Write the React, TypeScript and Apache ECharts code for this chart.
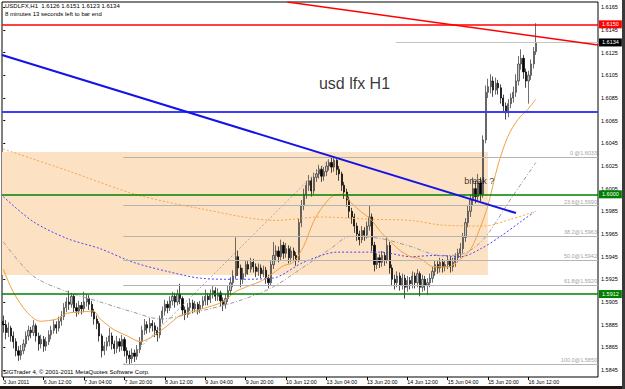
import React, { useEffect, useRef } from "react";
import * as echarts from "echarts";

const FONT = '"Liberation Sans", Arial, sans-serif';

const xTickLabels = [
  "3 Jun 2011", "6 Jun 12:00", "7 Jun 04:00", "7 Jun 20:00", "8 Jun 12:00", "9 Jun 04:00",
  "9 Jun 20:00", "10 Jun 12:00", "13 Jun 04:00", "13 Jun 20:00", "14 Jun 12:00",
  "15 Jun 04:00", "15 Jun 20:00", "16 Jun 12:00",
];
const barsPerLabel = 16;
const slotCount = 236;

const yTickValues = [
  1.5845, 1.5865, 1.5885, 1.5905, 1.5925, 1.5945, 1.5965, 1.5985, 1.6005,
  1.6025, 1.6045, 1.6065, 1.6085, 1.6105, 1.6125, 1.6145, 1.6165,
];

// [open, close, low, high]
const ohlc = [
  [1.5888, 1.5885, 1.5878, 1.5893], [1.5885, 1.5878, 1.5872, 1.5889], [1.5878, 1.5882, 1.5874, 1.5887],
  [1.5882, 1.5875, 1.587, 1.5884], [1.5875, 1.587, 1.5864, 1.5879], [1.587, 1.5862, 1.5857, 1.5873],
  [1.5862, 1.5858, 1.5853, 1.5866], [1.5858, 1.5862, 1.5854, 1.5867], [1.5862, 1.5868, 1.5859, 1.5872],
  [1.5868, 1.5875, 1.5865, 1.5879], [1.5875, 1.588, 1.5871, 1.5884], [1.588, 1.5878, 1.5873, 1.5883],
  [1.5878, 1.5884, 1.5875, 1.5889], [1.5884, 1.5875, 1.587, 1.5886], [1.5875, 1.5868, 1.5862, 1.5878],
  [1.5868, 1.5872, 1.5864, 1.5876], [1.5872, 1.5866, 1.5861, 1.5875], [1.5866, 1.587, 1.5862, 1.5874],
  [1.587, 1.5876, 1.5867, 1.588], [1.5876, 1.588, 1.5872, 1.5884], [1.588, 1.5885, 1.5877, 1.5889],
  [1.5885, 1.5882, 1.5877, 1.5888], [1.5882, 1.5888, 1.5879, 1.5892], [1.5888, 1.5892, 1.5884, 1.5897],
  [1.5892, 1.59, 1.5889, 1.5904], [1.59, 1.5905, 1.5896, 1.5909], [1.5905, 1.5903, 1.5898, 1.5915],
  [1.5903, 1.591, 1.59, 1.5913], [1.591, 1.59, 1.5896, 1.5912], [1.59, 1.5897, 1.5892, 1.5904],
  [1.5897, 1.5902, 1.5894, 1.5906], [1.5902, 1.5899, 1.5894, 1.5905], [1.5899, 1.5905, 1.5896, 1.5914],
  [1.5905, 1.5908, 1.5901, 1.5912], [1.5908, 1.5903, 1.5898, 1.5911], [1.5903, 1.5896, 1.5892, 1.5906],
  [1.5896, 1.589, 1.5885, 1.5899], [1.589, 1.5886, 1.5881, 1.5893], [1.5886, 1.5875, 1.587, 1.5888],
  [1.5875, 1.5862, 1.5856, 1.5877], [1.5862, 1.5866, 1.5858, 1.587], [1.5866, 1.587, 1.5862, 1.5874],
  [1.587, 1.5875, 1.5866, 1.5882], [1.5875, 1.5868, 1.5863, 1.5878], [1.5868, 1.5864, 1.5859, 1.5871],
  [1.5864, 1.587, 1.586, 1.5875], [1.587, 1.5866, 1.5861, 1.5873], [1.5866, 1.5872, 1.5862, 1.5876],
  [1.5872, 1.5862, 1.5857, 1.5874], [1.5862, 1.5858, 1.5851, 1.5865], [1.5858, 1.5855, 1.585, 1.5862],
  [1.5855, 1.586, 1.5851, 1.5864], [1.586, 1.5857, 1.5852, 1.5863], [1.5857, 1.5863, 1.5854, 1.5867],
  [1.5863, 1.587, 1.586, 1.5874], [1.587, 1.588, 1.5867, 1.5884], [1.588, 1.5885, 1.5876, 1.589],
  [1.5885, 1.5882, 1.5877, 1.5888], [1.5882, 1.5886, 1.5878, 1.5891], [1.5886, 1.5884, 1.5879, 1.5889],
  [1.5884, 1.588, 1.5874, 1.5887], [1.588, 1.5876, 1.587, 1.5883], [1.5876, 1.589, 1.5873, 1.5893],
  [1.589, 1.5897, 1.5886, 1.5901], [1.5897, 1.5903, 1.5893, 1.5907], [1.5903, 1.59, 1.5895, 1.5906],
  [1.59, 1.5906, 1.5897, 1.591], [1.5906, 1.591, 1.5902, 1.5914], [1.591, 1.5905, 1.59, 1.5913],
  [1.5905, 1.5912, 1.5902, 1.5916], [1.5912, 1.5908, 1.5903, 1.5921], [1.5908, 1.5898, 1.5893, 1.591],
  [1.5898, 1.5894, 1.5889, 1.5901], [1.5894, 1.59, 1.5891, 1.5904], [1.59, 1.5904, 1.5897, 1.5908],
  [1.5904, 1.5899, 1.5895, 1.5907], [1.5899, 1.5903, 1.5896, 1.5906], [1.5903, 1.5898, 1.5894, 1.5905],
  [1.5898, 1.5902, 1.5895, 1.5906], [1.5902, 1.5906, 1.5899, 1.591], [1.5906, 1.591, 1.5902, 1.5916],
  [1.591, 1.5907, 1.5902, 1.5913], [1.5907, 1.5912, 1.5904, 1.5916], [1.5912, 1.5915, 1.5908, 1.5919],
  [1.5915, 1.591, 1.5906, 1.5918], [1.591, 1.5913, 1.5906, 1.5917], [1.5913, 1.5906, 1.5901, 1.5915],
  [1.5906, 1.5903, 1.5897, 1.5909], [1.5903, 1.5908, 1.5899, 1.5912], [1.5908, 1.5915, 1.5905, 1.5919],
  [1.5915, 1.5922, 1.5911, 1.5927], [1.5922, 1.5928, 1.5918, 1.5933], [1.5928, 1.5945, 1.5925, 1.5962],
  [1.5945, 1.5935, 1.5928, 1.595], [1.5935, 1.5925, 1.5918, 1.5938], [1.5925, 1.593, 1.5921, 1.5935],
  [1.593, 1.5938, 1.5927, 1.5942], [1.5938, 1.5934, 1.5929, 1.5941], [1.5934, 1.594, 1.5931, 1.5944],
  [1.594, 1.5936, 1.5931, 1.5943], [1.5936, 1.5932, 1.5927, 1.5939], [1.5932, 1.5935, 1.5928, 1.5939],
  [1.5935, 1.593, 1.5926, 1.5938], [1.593, 1.5933, 1.5927, 1.5937], [1.5933, 1.5926, 1.5921, 1.5936],
  [1.5926, 1.5922, 1.5917, 1.5929], [1.5922, 1.5938, 1.5919, 1.5942], [1.5938, 1.5946, 1.5934, 1.5958],
  [1.5946, 1.595, 1.5941, 1.5955], [1.595, 1.5945, 1.594, 1.5954], [1.5945, 1.5955, 1.5942, 1.596],
  [1.5955, 1.5948, 1.5943, 1.5958], [1.5948, 1.5952, 1.5944, 1.5957], [1.5952, 1.5944, 1.5939, 1.5955],
  [1.5944, 1.595, 1.594, 1.5954], [1.595, 1.5946, 1.5941, 1.5953], [1.5946, 1.5942, 1.5937, 1.5949],
  [1.5942, 1.5975, 1.594, 1.5979], [1.5975, 1.599, 1.5971, 1.5995], [1.599, 1.6, 1.5986, 1.6005],
  [1.6, 1.6008, 1.5996, 1.6012], [1.6008, 1.6012, 1.6003, 1.6017], [1.6012, 1.6003, 1.5998, 1.6015],
  [1.6003, 1.6015, 1.6, 1.6019], [1.6015, 1.6018, 1.6011, 1.6022], [1.6018, 1.6022, 1.6014, 1.6026],
  [1.6022, 1.6016, 1.6011, 1.6025], [1.6016, 1.602, 1.6012, 1.6024], [1.602, 1.6025, 1.6016, 1.6029],
  [1.6025, 1.6028, 1.6021, 1.6031], [1.6028, 1.6024, 1.6019, 1.6033], [1.6024, 1.603, 1.602, 1.6032],
  [1.603, 1.6022, 1.6017, 1.6031], [1.6022, 1.6018, 1.6012, 1.6025], [1.6018, 1.6008, 1.6003, 1.602],
  [1.6008, 1.6002, 1.5996, 1.6011], [1.6002, 1.5995, 1.5989, 1.6005], [1.5995, 1.5985, 1.5979, 1.5998],
  [1.5985, 1.598, 1.5974, 1.5988], [1.598, 1.5972, 1.5966, 1.5983], [1.5972, 1.5965, 1.5959, 1.5975],
  [1.5965, 1.596, 1.5955, 1.5968], [1.596, 1.5968, 1.5957, 1.5972], [1.5968, 1.5964, 1.5959, 1.5971],
  [1.5964, 1.5972, 1.5961, 1.5976], [1.5972, 1.598, 1.5968, 1.599], [1.598, 1.5955, 1.595, 1.5983],
  [1.5955, 1.5938, 1.5932, 1.5958], [1.5938, 1.5944, 1.5934, 1.5948], [1.5944, 1.594, 1.5935, 1.5947],
  [1.594, 1.5946, 1.5936, 1.595], [1.5946, 1.5942, 1.5937, 1.5949], [1.5942, 1.5955, 1.5939, 1.5962],
  [1.5955, 1.5935, 1.593, 1.5958], [1.5935, 1.5925, 1.5919, 1.5938], [1.5925, 1.5922, 1.5916, 1.5929],
  [1.5922, 1.5928, 1.5918, 1.5932], [1.5928, 1.592, 1.5915, 1.5931], [1.592, 1.5926, 1.5916, 1.593],
  [1.5926, 1.5918, 1.5908, 1.5929], [1.5918, 1.5924, 1.5914, 1.5928], [1.5924, 1.5921, 1.5916, 1.5927],
  [1.5921, 1.5928, 1.5917, 1.5932], [1.5928, 1.5922, 1.5917, 1.5931], [1.5922, 1.593, 1.5918, 1.5934],
  [1.593, 1.5918, 1.591, 1.5932], [1.5918, 1.5925, 1.5914, 1.5929], [1.5925, 1.592, 1.5915, 1.5928],
  [1.592, 1.5922, 1.5911, 1.5926], [1.5922, 1.5926, 1.5918, 1.593], [1.5926, 1.5932, 1.5922, 1.5936],
  [1.5932, 1.5938, 1.5928, 1.5942], [1.5938, 1.5935, 1.593, 1.5941], [1.5935, 1.594, 1.5931, 1.5944],
  [1.594, 1.5936, 1.5931, 1.5943], [1.5936, 1.5938, 1.5932, 1.5942], [1.5938, 1.5942, 1.5934, 1.5946],
  [1.5942, 1.5936, 1.5931, 1.5945], [1.5936, 1.594, 1.5932, 1.5944], [1.594, 1.5944, 1.5936, 1.5948],
  [1.5944, 1.5948, 1.594, 1.5952], [1.5948, 1.5952, 1.5944, 1.5957], [1.5952, 1.5962, 1.5948, 1.5966],
  [1.5962, 1.5975, 1.5958, 1.5979], [1.5975, 1.5985, 1.5971, 1.599], [1.5985, 1.5995, 1.598, 1.6],
  [1.5995, 1.6005, 1.599, 1.6015], [1.6005, 1.5998, 1.5992, 1.6012], [1.5998, 1.601, 1.5994, 1.6018],
  [1.601, 1.6, 1.5994, 1.6015], [1.6, 1.6048, 1.5997, 1.6052], [1.6048, 1.609, 1.6045, 1.6096],
  [1.609, 1.6095, 1.6085, 1.6102], [1.6095, 1.61, 1.6089, 1.6106], [1.61, 1.6092, 1.6086, 1.6104],
  [1.6092, 1.6098, 1.6088, 1.6103], [1.6098, 1.6094, 1.6088, 1.6101], [1.6094, 1.6085, 1.608, 1.6097],
  [1.6085, 1.6078, 1.6072, 1.6088], [1.6078, 1.6072, 1.6066, 1.6081], [1.6072, 1.608, 1.6068, 1.6084],
  [1.608, 1.6085, 1.6076, 1.6089], [1.6085, 1.609, 1.6081, 1.6095], [1.609, 1.61, 1.6086, 1.6106],
  [1.61, 1.6115, 1.6096, 1.6122], [1.6115, 1.612, 1.611, 1.6128], [1.612, 1.6108, 1.6102, 1.6123],
  [1.6108, 1.61, 1.6094, 1.6111], [1.61, 1.6105, 1.608, 1.6109], [1.6105, 1.6115, 1.6101, 1.6119],
  [1.6115, 1.6126, 1.6111, 1.613], [1.6126, 1.6134, 1.6123, 1.6151],
];

// moving averages: [bar index, price]
const maOrange = [
  [0, 1.5934], [3.9, 1.5914], [9.4, 1.5896], [14.6, 1.5888], [21.3, 1.589], [25.3, 1.5895],
  [30.4, 1.5896], [35.6, 1.5897], [38.4, 1.589], [43.5, 1.5881], [49.1, 1.5875], [54.2, 1.587],
  [59.4, 1.5875], [64.9, 1.5884], [70.1, 1.5893], [78.8, 1.5899], [86.8, 1.5905], [91.9, 1.5914],
  [97.1, 1.5919], [102.6, 1.5924], [107.8, 1.5932], [111, 1.5937], [114.9, 1.594], [118.9, 1.5954],
  [122.9, 1.5976], [126.8, 1.599], [130.8, 1.5999], [134.4, 1.6], [137.5, 1.5993], [141.5, 1.5985],
  [145.5, 1.5978], [149.4, 1.5967], [153.4, 1.5958], [157.4, 1.595], [161.3, 1.5945], [165.3, 1.5943],
  [170.5, 1.5936], [176, 1.5936], [181.2, 1.5943], [185.2, 1.5952], [189.1, 1.5972], [191.9, 1.599],
  [195.8, 1.6025], [199.8, 1.6051], [203.8, 1.6066], [207.7, 1.6075], [210.9, 1.6084],
];
const maOrangeDotted = [
  [0, 1.604], [25.3, 1.6021], [52.3, 1.6], [78.8, 1.5987], [107.8, 1.5977], [125.6, 1.598],
  [145.5, 1.5978], [161.3, 1.5977], [173.2, 1.5973], [190.3, 1.5972], [201, 1.5978], [210.9, 1.5985],
];
const maBlueDotted = [
  [0, 1.5998], [11.8, 1.5976], [25.3, 1.5961], [38.4, 1.5952], [51.5, 1.594], [64.9, 1.5932],
  [78, 1.5926], [91.9, 1.5925], [106.6, 1.5926], [118.9, 1.594], [132.4, 1.5949], [149.4, 1.5949],
  [161.3, 1.5945], [170.5, 1.5946], [181.2, 1.5945], [189.1, 1.5952], [197, 1.5963], [205, 1.5976],
  [210.1, 1.5984],
];
const maGreyDashed = [
  [0, 1.5958], [11.8, 1.5928], [25.3, 1.5914], [38.4, 1.5905], [51.5, 1.5896], [62.2, 1.589],
  [78, 1.5897], [91.9, 1.5905], [105.8, 1.5917], [117.7, 1.5934], [129.6, 1.5952], [137.5, 1.5963],
  [149.4, 1.5961], [161.3, 1.5954], [173.2, 1.5946], [181.2, 1.5947], [187.1, 1.5954], [191.9, 1.5965],
  [201, 1.5996], [210.9, 1.6028],
];

// objects
const redLevel = 1.615;
const bidLevel = 1.6134;
const blueLevel = 1.6073;
const greenLevels = [1.6, 1.5912];
const redTrend = [[112.5, 1.61697], [235.5, 1.61317]];
const blueTrend = [[-0.5, 1.61229], [203, 1.59835]];
const fibAnchors = [[47.5, 1.585], [130, 1.6033]];
const fibRatios = ["0", "23.6", "38.2", "50.0", "61.8", "100.0"];
const fibPrices = [1.6033, 1.599, 1.5963, 1.5942, 1.592, 1.585];
const zoneBox = [[-0.5, 1.60373], [191.9, 1.59288]];
const bidStart = 155.4;
const notes = [
  { text: "usd lfx H1", at: [124.8, 1.60982], size: 16 },
  { text: "break ?", at: [182.3, 1.60117], size: 9 },
];

const titleLine1 = "USDLFX,H1  1.6126 1.6151 1.6123 1.6134";
const titleLine2 = "8 minutes 13 seconds left to bar end";
const copyright = "SIGTrader 4, \u00a9 2001-2011 MetaQuotes Software Corp.";

function priceTag(value: number, bg: string) {
  return {
    show: true,
    position: "end",
    distance: 1,
    formatter: value.toFixed(4),
    backgroundColor: bg,
    color: "#fff",
    padding: [1, 3, 1, 3],
    fontSize: 5.5,
    fontFamily: FONT,
  };
}

function buildOption() {
  const categories = Array.from({ length: slotCount }, (_, i) => String(i));
  const showTick = (i: number) => i % barsPerLabel === 0 && i / barsPerLabel < xTickLabels.length;
  const lineSeries = (data: number[][], color: string, type: any, width = 1, z = 4) => ({
    type: "line",
    xAxisIndex: 1,
    yAxisIndex: 0,
    data,
    showSymbol: false,
    symbol: "none",
    smooth: 0.3,
    silent: true,
    z,
    lineStyle: { color, width, type },
  });

  return {
    animation: false,
    backgroundColor: "#ffffff",
    grid: {
      left: 2, right: 27, top: 2, bottom: 12,
      show: true, borderColor: "#000", borderWidth: 1, backgroundColor: "#fff",
    },
    xAxis: [
      {
        type: "category",
        data: categories,
        boundaryGap: true,
        axisLine: { show: false },
        axisTick: { show: true, alignWithLabel: true, interval: (i: number) => showTick(i), length: 3, lineStyle: { color: "#000" } },
        axisLabel: {
          interval: (i: number) => showTick(i),
          formatter: (v: string) => xTickLabels[Number(v) / barsPerLabel] ?? "",
          align: "left",
          fontSize: 5.3,
          color: "#000",
          margin: 2,
          fontFamily: FONT,
        },
        splitLine: { show: false },
      },
      { type: "value", min: -0.5, max: slotCount - 0.5, show: false },
    ],
    yAxis: {
      type: "value",
      position: "right",
      min: 1.58388,
      max: 1.61697,
      scale: true,
      splitLine: { show: false },
      axisLine: { show: false },
      axisTick: { show: true, length: 2, lineStyle: { color: "#000" }, customValues: yTickValues },
      axisLabel: {
        customValues: yTickValues,
        formatter: (v: number) => v.toFixed(4),
        fontSize: 5.5,
        color: "#000",
        margin: 3,
        fontFamily: FONT,
      },
    },
    graphic: [
      { type: "text", left: 5, top: 3, style: { text: titleLine1, font: `6px ${FONT}`, fill: "#000" } },
      { type: "text", left: 5, top: 11, style: { text: titleLine2, font: `6px ${FONT}`, fill: "#000" } },
      { type: "text", left: 3, top: 369, style: { text: copyright, font: `6px ${FONT}`, fill: "#000" } },
      { type: "rect", shape: { x: 0, y: 386, width: 625, height: 3 }, style: { fill: "#231512" } },
      { type: "rect", shape: { x: 622, y: 0, width: 3, height: 389 }, style: { fill: "#3a3a3a" } },
    ],
    series: [
      {
        type: "line",
        xAxisIndex: 1,
        data: zoneBox,
        showSymbol: false,
        symbol: "none",
        lineStyle: { opacity: 0 },
        silent: true,
        z: 1,
        markArea: {
          silent: true,
          itemStyle: { color: "#fde1c3" },
          data: [[{ coord: zoneBox[0] }, { coord: zoneBox[1] }]],
        },
      },
      {
        type: "candlestick",
        xAxisIndex: 0,
        yAxisIndex: 0,
        data: ohlc,
        barWidth: 1.7,
        silent: true,
        z: 3,
        itemStyle: {
          color: "#c4c4c4",
          color0: "#000000",
          borderColor: "#303030",
          borderColor0: "#000000",
          borderWidth: 0.7,
        },
      },
      lineSeries(maGreyDashed, "#9a9a9a", [4, 2, 1, 2]),
      lineSeries(maBlueDotted, "#4646ff", [2, 2]),
      lineSeries(maOrangeDotted, "#f5a742", [2, 2]),
      lineSeries(maOrange, "#f0a040", "solid"),
      {
        ...lineSeries(fibAnchors, "#a8a8a8", [2, 2]),
        smooth: false,
        markLine: {
          silent: true,
          precision: 5,
          symbol: ["none", "none"],
          data: fibPrices.map((p, k) => [
            {
              coord: [fibAnchors[0][0], p],
              lineStyle: { color: "#b4b4b4", width: 1, type: "solid" },
              label: {
                show: true,
                position: "insideEndTop",
                distance: 1,
                formatter: `${fibRatios[k]}${k === 0 ? " " : ""}@${p.toFixed(4)}`,
                color: "#a4a4a4",
                fontSize: 5.5,
                fontFamily: FONT,
              },
            },
            { coord: [slotCount - 0.5, p] },
          ]),
        },
      },
      {
        ...lineSeries(redTrend, "#ff0000", "solid", 1.5, 6),
        smooth: false,
        markLine: {
          silent: true,
          precision: 5,
          symbol: ["none", "none"],
          data: [
            { yAxis: redLevel, lineStyle: { color: "#ff0000", width: 1.5, type: "solid" }, label: priceTag(redLevel, "#ff0000") },
            ...greenLevels.map((g) => ({
              yAxis: g,
              lineStyle: { color: "#008000", width: 1.5, type: "solid" },
              label: priceTag(g, "#008000"),
            })),
            { yAxis: blueLevel, lineStyle: { color: "#3c3cff", width: 2, type: "solid" }, label: { show: false } },
            [
              { coord: [bidStart, bidLevel], lineStyle: { color: "#c4c4c4", width: 1, type: "solid" }, label: priceTag(bidLevel, "#000000") },
              { coord: [slotCount - 0.5, bidLevel] },
            ],
          ],
        },
      },
      { ...lineSeries(blueTrend, "#1414e6", "solid", 2, 6), smooth: false },
      {
        type: "scatter",
        xAxisIndex: 1,
        yAxisIndex: 0,
        symbolSize: 1,
        itemStyle: { color: "rgba(0,0,0,0)" },
        silent: true,
        z: 7,
        data: notes.map((n) => ({
          value: n.at,
          label: {
            show: true,
            position: "right",
            distance: 0,
            formatter: n.text,
            fontSize: n.size,
            color: "#000",
            fontFamily: FONT,
          },
        })),
      },
    ],
  };
}

export default function App() {
  const ref = useRef<HTMLDivElement>(null);
  useEffect(() => {
    if (!ref.current) return;
    const chart = echarts.init(ref.current, null, { renderer: "svg" });
    chart.setOption(buildOption() as any);
    return () => chart.dispose();
  }, []);
  return (
    <div
      ref={ref}
      style={{ position: "fixed", left: 0, top: 0, width: 625, height: 389, background: "#fff" }}
    />
  );
}
